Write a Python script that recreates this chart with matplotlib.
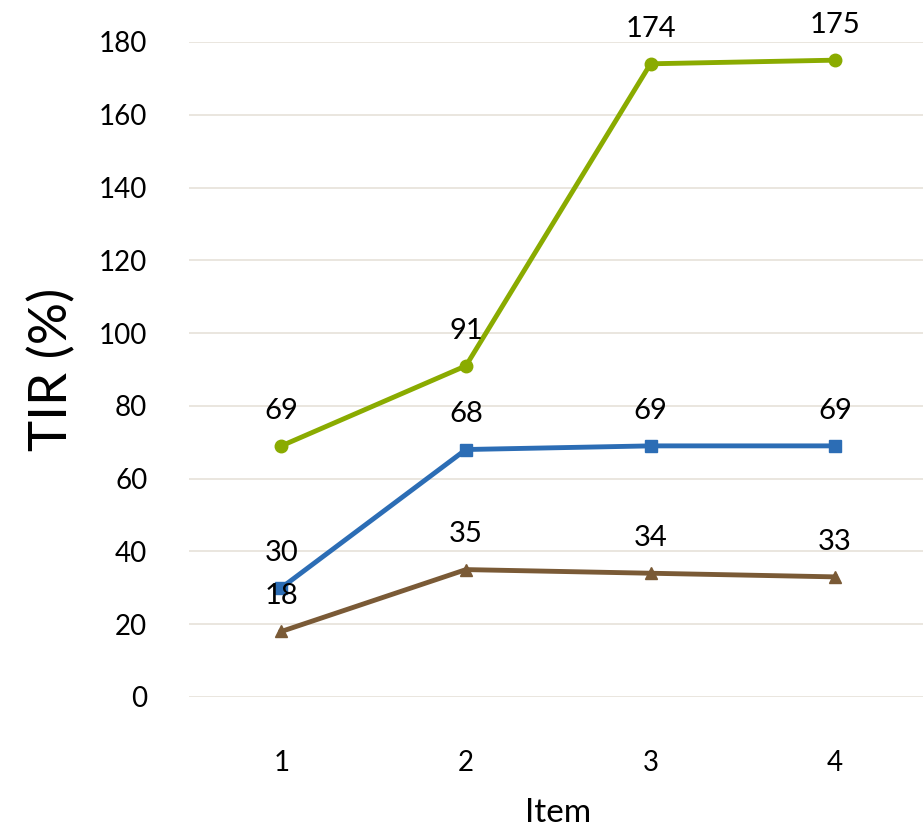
import matplotlib.pyplot as plt

items = [1, 2, 3, 4]
green_vals = [69, 91, 174, 175]
blue_vals = [30, 68, 69, 69]
brown_vals = [18, 35, 34, 33]
yticks = [0, 20, 40, 60, 80, 100, 120, 140, 160, 180]

plt.rcParams['font.family'] = ['Lato', 'DejaVu Sans']

fig = plt.figure(figsize=(9.23, 8.31), dpi=100)
ax = fig.add_axes([0.2048, 0.1613, 0.8, 0.7882])

series = [
    (green_vals, '#8aab00', 'o', 9),
    (blue_vals, '#2c6db5', 's', 9),
    (brown_vals, '#7a5a36', '^', 9),
]
for vals, color, marker, ms in series:
    ax.plot(items, vals, color=color, lw=3.5, marker=marker, ms=ms, zorder=3)
    for x, v in zip(items, vals):
        ax.annotate(str(v), (x, v), xytext=(0, 16), textcoords='offset points',
                    ha='center', va='bottom', fontsize=21, color='black', zorder=4)

ax.set_xlim(0.5, 4.5)
ax.set_ylim(0, 180)
ax.set_xticks(items)
ax.set_yticks(yticks)
ax.tick_params(axis='both', length=0, labelsize=20)
ax.tick_params(axis='x', pad=38)
ax.tick_params(axis='y', pad=30)
ax.grid(axis='y', color='#e6e1d9', lw=1.2, zorder=0)
ax.set_axisbelow(True)
for sp in ax.spines.values():
    sp.set_visible(False)

ax.set_xlabel('Item', fontsize=24, labelpad=16)
ax.set_ylabel('TIR (%)', fontsize=38, labelpad=16)

fig.savefig('out.png', dpi=100)
